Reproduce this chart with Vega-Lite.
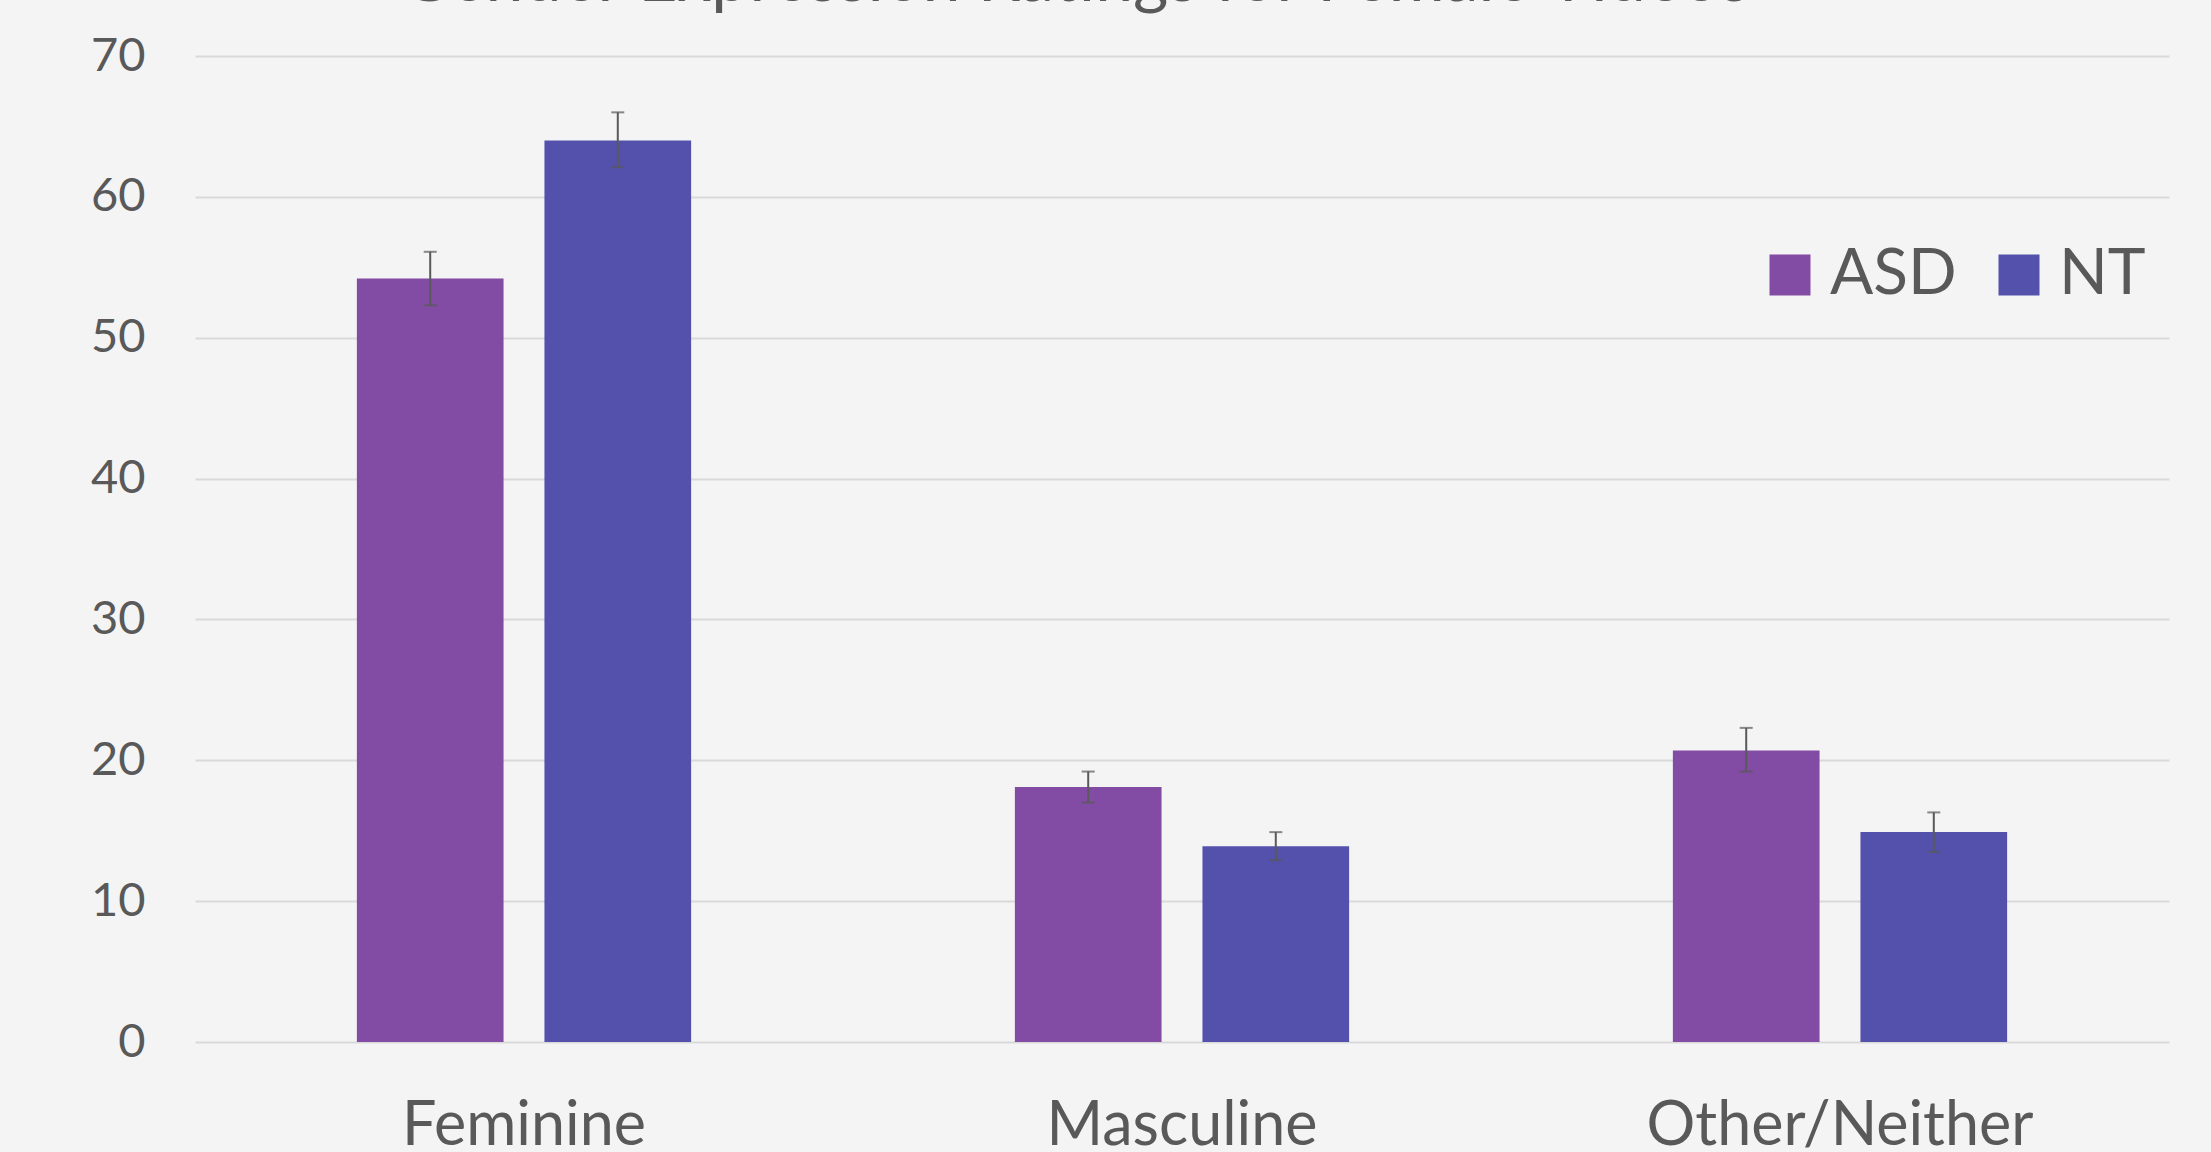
{
  "$schema": "https://vega.github.io/schema/vega-lite/v6.json",
  "width": 1974,
  "height": 986,
  "autosize": {"type": "none"},
  "padding": {"left": 195, "top": 56, "right": 42, "bottom": 110},
  "background": "#f4f4f5",
  "title": {
    "text": "Gender Expression Ratings for Female Videos",
    "fontSize": 68,
    "font": "Lato",
    "fontWeight": "normal",
    "color": "#595959",
    "anchor": "middle",
    "frame": "group",
    "baseline": "alphabetic",
    "offset": 0,
    "dy": 37,
    "dx": -107
  },
  "data": {
    "values": [
      {"category": "Feminine", "group": "ASD", "value": 54.2, "lo": 52.3, "hi": 56.1},
      {"category": "Feminine", "group": "NT", "value": 64.0, "lo": 62.1, "hi": 66.0},
      {"category": "Masculine", "group": "ASD", "value": 18.1, "lo": 17.0, "hi": 19.2},
      {"category": "Masculine", "group": "NT", "value": 13.9, "lo": 12.9, "hi": 14.9},
      {"category": "Other/Neither", "group": "ASD", "value": 20.7, "lo": 19.2, "hi": 22.3},
      {"category": "Other/Neither", "group": "NT", "value": 14.9, "lo": 13.5, "hi": 16.3}
    ]
  },
  "encoding": {
    "x": {
      "field": "category",
      "type": "nominal",
      "sort": ["Feminine", "Masculine", "Other/Neither"],
      "scale": {"paddingInner": 0.492, "paddingOuter": 0.246},
      "axis": {
        "title": null,
        "labelAngle": 0,
        "labelFont": "Lato",
        "labelFontSize": 61,
        "labelColor": "#595959",
        "labelPadding": 54,
        "labelBaseline": "top",
        "labelLimit": 0,
        "domain": false,
        "ticks": false,
        "grid": false
      }
    },
    "xOffset": {
      "field": "group",
      "type": "nominal",
      "sort": ["ASD", "NT"],
      "scale": {"paddingInner": 0.218, "paddingOuter": 0}
    }
  },
  "layer": [
    {
      "mark": {"type": "bar"},
      "encoding": {
        "y": {
          "field": "value",
          "type": "quantitative",
          "scale": {"domain": [0, 70]},
          "axis": {
            "title": null,
            "values": [0, 10, 20, 30, 40, 50, 60, 70],
            "labelFont": "Lato",
            "labelFontSize": 47,
            "labelColor": "#595959",
            "labelPadding": 50,
            "domain": false,
            "ticks": false,
            "grid": true,
            "gridColor": "#d9d9d9",
            "gridWidth": 2
          }
        },
        "color": {
          "field": "group",
          "type": "nominal",
          "sort": ["ASD", "NT"],
          "scale": {"domain": ["ASD", "NT"], "range": ["#834ca4", "#5451ad"]},
          "legend": {
            "title": null,
            "orient": "none",
            "legendX": 1563,
            "legendY": 187,
            "direction": "horizontal",
            "symbolType": "square",
            "symbolSize": 1681,
            "symbolStrokeWidth": 0,
            "labelFont": "Lato",
            "labelFontSize": 64,
            "labelColor": "#595959",
            "labelOffset": 8,
            "columnPadding": 30,
            "padding": 0
          }
        }
      }
    },
    {
      "mark": {"type": "rule", "color": "#595959", "strokeWidth": 2},
      "encoding": {
        "y": {"field": "lo", "type": "quantitative"},
        "y2": {"field": "hi"}
      }
    },
    {
      "mark": {"type": "tick", "color": "#595959", "thickness": 2, "size": 13},
      "encoding": {"y": {"field": "lo", "type": "quantitative"}}
    },
    {
      "mark": {"type": "tick", "color": "#595959", "thickness": 2, "size": 13},
      "encoding": {"y": {"field": "hi", "type": "quantitative"}}
    }
  ],
  "config": {
    "view": {"stroke": null}
  }
}
